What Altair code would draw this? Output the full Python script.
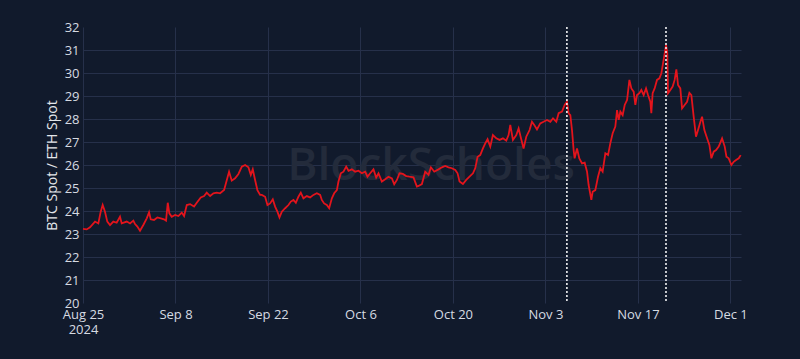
import altair as alt
import pandas as pd

# Days elapsed since 2024-08-25 00:00 and BTC/ETH spot ratio
day = [0.0, 0.56, 1.06, 1.82, 2.32, 2.68, 2.98, 3.33, 3.68, 4.09, 4.59, 5.10, 5.60, 5.86,
       6.62, 7.12, 7.62, 7.88, 8.23, 8.63, 9.13, 9.65, 10.0, 10.25, 10.75, 11.26, 11.77,
       12.27, 12.57, 12.83, 13.07, 13.43, 13.94, 14.44, 14.95, 15.30, 15.71, 16.21, 16.81,
       17.22, 17.83, 18.33, 18.73, 19.24, 19.74, 20.25, 20.75, 21.36, 21.77, 22.11, 22.52,
       23.02, 23.53, 24.04, 24.54, 25.04, 25.40, 25.70, 26.05, 26.40, 26.81, 27.07, 27.57,
       27.92, 28.32, 28.73, 29.08, 29.43, 29.74, 30.10, 30.60, 31.10, 31.46, 31.86, 32.22,
       32.61, 32.97, 33.37, 33.88, 34.38, 34.88, 35.40, 35.90, 36.15, 36.50, 36.91, 37.26,
       37.67, 38.02, 38.43, 38.67, 39.03, 39.43, 39.84, 40.19, 40.70, 41.20, 41.70, 42.21,
       42.71, 43.06, 43.47, 43.97, 44.38, 44.73, 45.24, 45.74, 46.24, 46.76, 47.11, 47.52,
       47.91, 48.42, 48.92, 49.42, 50.03, 50.54, 50.79, 51.30, 51.80, 52.30, 52.67, 53.17,
       53.82, 54.33, 54.83, 55.33, 55.85, 56.35, 56.70, 57.00, 57.51, 58.01, 58.51, 59.03,
       59.38, 59.73, 60.13, 60.54, 60.89, 61.24, 61.65, 62.05, 62.56, 63.06, 63.57, 64.07,
       64.42, 64.68, 65.08, 65.59, 65.94, 66.30, 66.69, 67.10, 67.60, 67.96, 68.31, 68.72,
       69.22, 69.72, 70.24, 70.74, 71.15, 71.65, 72.00, 72.51, 72.91, 73.26, 73.51, 73.77,
       74.02, 74.27, 74.42, 74.78, 75.13, 75.54, 75.94, 76.30, 76.54, 76.95, 77.15, 77.55,
       77.96, 78.31, 78.66, 79.07, 79.48, 79.82, 80.18, 80.58, 80.84, 81.09, 81.34, 81.69,
       82.00, 82.36, 82.71, 83.01, 83.36, 83.61, 83.87, 84.22, 84.52, 84.87, 85.23, 85.53,
       85.88, 86.03, 86.23, 86.53, 86.89, 87.25, 87.55, 87.89, 88.26, 88.45, 88.56, 88.91,
       89.26, 89.56, 89.82, 90.07, 90.42, 90.68, 91.07, 91.44, 91.79, 92.09, 92.44, 92.79,
       93.10, 93.46, 93.71, 94.06, 94.47, 94.82, 95.12, 95.47, 95.83, 96.23, 96.74, 97.14,
       97.40, 97.74, 98.15, 98.50, 98.86, 99.26, 99.56]
ratio = [23.22, 23.20, 23.29, 23.54, 23.46, 23.97, 24.26, 23.97, 23.54, 23.39, 23.54, 23.49,
         23.75, 23.46, 23.54, 23.46, 23.58, 23.43, 23.32, 23.14, 23.39, 23.68, 23.94, 23.64,
         23.61, 23.72, 23.68, 23.64, 23.58, 24.36, 23.90, 23.75, 23.83, 23.78, 23.93, 23.78,
         24.26, 24.30, 24.19, 24.36, 24.59, 24.65, 24.80, 24.65, 24.77, 24.80, 24.77, 24.91,
         25.35, 25.71, 25.32, 25.42, 25.61, 25.93, 26.00, 25.90, 25.57, 25.81, 25.35, 24.91,
         24.70, 24.70, 24.62, 24.26, 24.33, 24.51, 24.19, 23.97, 23.72, 23.97, 24.12, 24.26,
         24.41, 24.48, 24.36, 24.62, 24.80, 24.55, 24.65, 24.59, 24.70, 24.77, 24.70, 24.48,
         24.33, 24.26, 24.12, 24.55, 24.77, 24.91, 25.28, 25.64, 25.71, 25.93, 25.75, 25.81,
         25.71, 25.75, 25.64, 25.71, 25.49, 25.64, 25.81, 25.46, 25.64, 25.28, 25.38, 25.49,
         25.42, 25.16, 25.35, 25.64, 25.61, 25.52, 25.49, 25.46, 25.06, 25.09, 25.17, 25.71,
         25.57, 25.90, 25.71, 25.81, 25.90, 25.96, 25.90, 25.86, 25.78, 25.64, 25.28, 25.17,
         25.35, 25.49, 25.64, 25.86, 26.36, 26.43, 26.72, 26.94, 27.12, 26.80, 27.30, 27.16,
         27.09, 27.16, 27.06, 27.30, 27.74, 27.09, 27.30, 27.59, 27.16, 26.72, 27.23, 27.52,
         27.88, 27.74, 27.55, 27.81, 27.88, 27.96, 27.88, 28.03, 27.88, 28.25, 28.32, 28.61,
         28.75, 28.25, 28.17, 27.52, 26.65, 26.29, 26.72, 26.29, 26.07, 26.10, 25.71, 25.13,
         24.48, 24.84, 24.91, 25.49, 25.86, 25.71, 26.51, 26.43, 26.94, 27.38, 27.67, 28.39,
         27.96, 28.32, 28.17, 28.61, 28.83, 29.70, 29.33, 29.19, 28.61, 29.04, 29.12, 29.26,
         29.04, 29.33, 29.04, 28.75, 28.25, 29.12, 29.33, 29.70, 29.77, 29.99, 30.57, 31.22,
         30.86, 29.12, 29.26, 29.41, 29.70, 30.16, 29.48, 29.33, 28.46, 28.61, 28.75, 29.14,
         29.04, 28.10, 27.23, 27.52, 27.88, 28.10, 27.52, 27.16, 26.87, 26.29, 26.58, 26.65,
         26.80, 27.16, 26.80, 26.36, 26.29, 26.00, 26.14, 26.22, 26.29, 26.43]

event_times = ["2024-11-06T06:00:00", "2024-11-21T06:00:00"]
tick_dates = [(8, 25), (9, 8), (9, 22), (10, 6), (10, 20), (11, 3), (11, 17), (12, 1)]
y_ticks = list(range(20, 33))

FONT = "Open Sans"
BG = "#111a2c"
GRID = "#26304a"

df = pd.DataFrame({
    "time": pd.Timestamp("2024-08-25") + pd.to_timedelta(day, unit="D"),
    "ratio": ratio,
})
ev = pd.DataFrame({"time": pd.to_datetime(event_times)})

x_scale = alt.Scale(domain=[alt.DateTime(year=2024, month=8, date=25),
                            alt.DateTime(year=2024, month=12, date=2, hours=14, minutes=30)])
y_scale = alt.Scale(domain=[20, 32], nice=False)

x_axis = alt.Axis(
    values=[alt.DateTime(year=2024, month=m, date=d) for m, d in tick_dates],
    labelExpr="(month(datum.value)==7 && date(datum.value)==25) ? [timeFormat(datum.value, '%b %-d'), '2024'] : timeFormat(datum.value, '%b %-d')",
    title=None, grid=True, gridColor=GRID, gridWidth=1, ticks=False, domain=False,
    labelColor="#d6dae2", labelFont=FONT, labelFontSize=13, labelPadding=5,
    labelLineHeight=15, labelFlush=False,
)
y_axis = alt.Axis(
    values=y_ticks, title="BTC Spot / ETH Spot", grid=True,
    gridColor={"condition": {"test": "datum.value == 20 || datum.value == 32", "value": "rgba(0,0,0,0)"}, "value": GRID},
    ticks=False, domain=False, labelColor="#d6dae2", labelFont=FONT, labelFontSize=13,
    labelPadding=4, titleColor="#e4e6ea", titleFont=FONT, titleFontSize=14,
    titleFontWeight="normal", titlePadding=5,
)

watermark = alt.Chart(pd.DataFrame({"t": ["BlockScholes"]})).mark_text(
    font=FONT, fontSize=46, fontWeight=600, color="#232b3b",
    align="center", baseline="middle",
).encode(text="t:N", x=alt.value(348), y=alt.value(139))

line = alt.Chart(df).mark_line(color="#e3141c", strokeWidth=1.8).encode(
    x=alt.X("time:T", scale=x_scale, axis=x_axis),
    y=alt.Y("ratio:Q", scale=y_scale, axis=y_axis),
)

rules = alt.Chart(ev).mark_rule(color="#ffffff", strokeDash=[2, 2], strokeWidth=1.5).encode(
    x=alt.X("time:T", scale=x_scale),
)

chart = alt.layer(watermark, line, rules).properties(
    width=658, height=276, background=BG,
    autosize=alt.AutoSizeParams(type="none"),
    padding={"left": 75, "top": 19, "right": 51, "bottom": 48},
).configure_view(stroke=None)

chart.save("out.html", embed_options={"renderer": "svg", "actions": False,
                                      "defaultStyle": "body{background-color:#111a2c;}"})
